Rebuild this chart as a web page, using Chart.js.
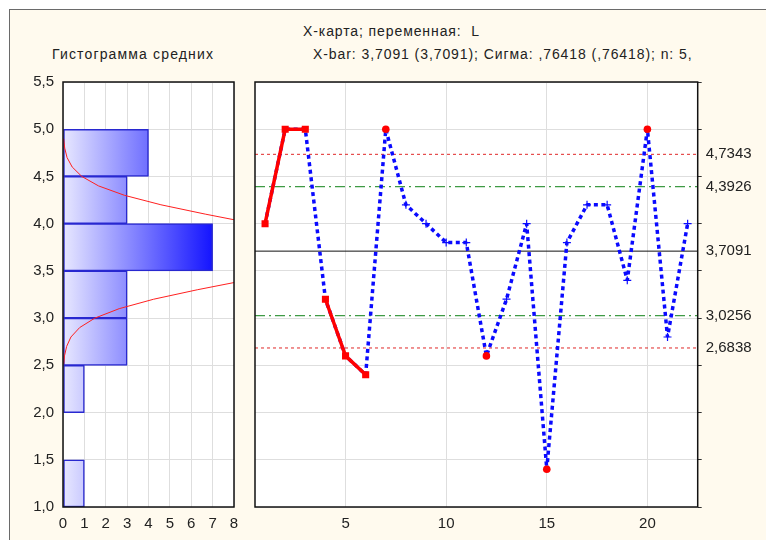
<!DOCTYPE html>
<html>
<head>
<meta charset="utf-8">
<script src="https://cdn.jsdelivr.net/npm/chart.js@4.4.1/dist/chart.umd.min.js"></script>
<style>
  html, body { margin: 0; padding: 0; background: #fff; }
  #page  { position: relative; width: 766px; height: 540px; overflow: hidden; }
  #frame { position: absolute; left: 9px; top: 9px; width: 770px; height: 545px;
           background: #fffaee; border-left: 1.5px solid #6a6a6a; border-top: 1.5px solid #6a6a6a; }
  .ttl   { position: absolute; font: 14px "Liberation Sans", Arial, sans-serif; line-height: 14px;
           color: #222; white-space: pre; letter-spacing: .9px; }
  canvas { position: absolute; top: 0; }
</style>
</head>
<body>
<div id="page">
  <div id="frame"></div>
  <div class="ttl" style="left:303px;top:24px">X-карта; переменная:  L</div>
  <div class="ttl" style="left:52px;top:47px;letter-spacing:1.15px">Гистограмма средних</div>
  <div class="ttl" style="left:313px;top:47px;letter-spacing:.92px">X-bar: 3,7091 (3,7091); Сигма: ,76418 (,76418); n: 5,</div>
  <canvas id="hist" width="250" height="540" style="left:0"></canvas>
  <canvas id="xbar" width="521" height="540" style="left:245px"></canvas>
</div>

<script>
// ---- данные ----
const samples = [1, 2, 3, 4, 5, 6, 7, 8, 9, 10, 11, 12, 13, 14, 15, 16, 17, 18, 19, 20, 21, 22];
const means   = [4.0, 5.0, 5.0, 3.2, 2.6, 2.4, 5.0, 4.2, 4.0, 3.8, 3.8, 2.6, 3.2, 4.0, 1.4, 3.8, 4.2, 4.2, 3.4, 5.0, 2.8, 4.0];
const runs       = [[1, 2, 3], [4, 5, 6]];   // серии подряд
const outSamples = [7, 12, 15, 20];          // вне контрольных границ

const CL  = 3.7091;
const UCL = 4.7343, LCL = 2.6838;
const UWL = 4.3926, LWL = 3.0256;
const limitValues = [2.6838, 3.0256, 3.7091, 4.3926, 4.7343];
const limitLabels = ['2,6838', '3,0256', '3,7091', '4,3926', '4,7343'];

// гистограмма средних
const binCenters = [1.25, 1.75, 2.25, 2.75, 3.25, 3.75, 4.25, 4.75];
const binCounts  = [1, 0, 1, 3, 3, 7, 3, 4];

// нормальная кривая: [частота, значение]
const curveUpper = [[0.03, 4.90], [0.08, 4.80], [0.19, 4.70], [0.43, 4.60], [0.88, 4.50],
                    [1.66, 4.40], [2.88, 4.30], [4.58, 4.20], [6.68, 4.10], [8.94, 4.00]];
const curveLower = [[0.03, 2.51], [0.07, 2.60], [0.17, 2.70], [0.37, 2.80], [0.78, 2.90],
                    [1.49, 3.00], [2.63, 3.10], [4.24, 3.20], [6.28, 3.30], [8.53, 3.40]];

const yTicks      = [1.0, 1.5, 2.0, 2.5, 3.0, 3.5, 4.0, 4.5, 5.0, 5.5];
const yTickLabels = ['1,0', '1,5', '2,0', '2,5', '3,0', '3,5', '4,0', '4,5', '5,0', '5,5'];
const histXTicks  = [0, 1, 2, 3, 4, 5, 6, 7, 8];
const sampleTicks = [5, 10, 15, 20];
const X_MIN = 0.5, X_MAX = 22.5;

Chart.defaults.font.family = '"Liberation Sans", Arial, sans-serif';
Chart.defaults.color = '#222';

const GRID = '#dedede';
const setTicks = list => s => { s.ticks = list.map(v => ({ value: v })); };

// белое поле + чёрная рамка
const plotFrame = {
  id: 'plotFrame',
  beforeDraw(chart) {
    const { ctx, chartArea: a } = chart;
    ctx.save();
    ctx.fillStyle = '#fff';
    ctx.fillRect(a.left, a.top, a.width, a.height);
    ctx.restore();
  },
  afterDraw(chart) {
    const { ctx, chartArea: a } = chart;
    ctx.save();
    ctx.strokeStyle = '#111';
    ctx.lineWidth = 1.5;
    ctx.strokeRect(a.left, a.top, a.width, a.height);
    ctx.restore();
  }
};

function barGradient(c) {
  const chart = c.chart;
  if (!chart.chartArea) return '#8888ff';
  const xs = chart.scales.x;
  const g = chart.ctx.createLinearGradient(xs.getPixelForValue(0), 0, xs.getPixelForValue(7), 0);
  g.addColorStop(0, '#e8e8ff');
  g.addColorStop(1, '#1414ff');
  return g;
}

// ════ Гистограмма ════
new Chart(document.getElementById('hist'), {
  data: {
    datasets: [
      {
        type: 'bar', indexAxis: 'y', xAxisID: 'x', yAxisID: 'y',
        data: binCenters.map((c, i) => ({ x: binCounts[i], y: c })),
        backgroundColor: barGradient, borderColor: '#2828d0', borderWidth: 1.5,
        borderSkipped: false, barPercentage: 1, categoryPercentage: 1, order: 2
      },
      {
        type: 'line', xAxisID: 'x', yAxisID: 'y',
        data: curveUpper.map(([x, y]) => ({ x, y })),
        borderColor: '#ff2020', borderWidth: 1, pointRadius: 0, order: 1
      },
      {
        type: 'line', xAxisID: 'x', yAxisID: 'y',
        data: curveLower.map(([x, y]) => ({ x, y })),
        borderColor: '#ff2020', borderWidth: 1, pointRadius: 0, order: 1
      }
    ]
  },
  options: {
    responsive: false, animation: false,
    layout: { padding: { top: 82, right: 16, left: 0, bottom: 0 } },
    plugins: { legend: { display: false }, tooltip: { enabled: false } },
    scales: {
      x: {
        type: 'linear', min: 0, max: 8, offset: false,
        afterBuildTicks: setTicks(histXTicks), afterFit: s => { s.height = 33; },
        grid: { color: GRID, drawTicks: false, offset: false }, border: { display: false },
        ticks: { padding: 8, font: { size: 15 } }
      },
      y: {
        type: 'linear', min: 1, max: 5.5, offset: false,
        afterBuildTicks: setTicks(yTicks), afterFit: s => { s.width = 63; },
        grid: { color: GRID, drawTicks: false, offset: false }, border: { display: false },
        ticks: { padding: 9, font: { size: 15 }, callback: v => yTickLabels[yTicks.indexOf(v)] }
      }
    }
  },
  plugins: [plotFrame]
});

// ════ X-карта ════
const special = new Set([...runs.flat(), ...outSamples]);
const pt = s => ({ x: s, y: means[s - 1] });
const runData = [];
runs.forEach((r, i) => {
  if (i) runData.push({ x: r[0] - 0.5, y: null });
  r.forEach(s => runData.push(pt(s)));
});
const hLine = v => [{ x: X_MIN, y: v }, { x: X_MAX, y: v }];
const flat = { pointRadius: 0, fill: false };

new Chart(document.getElementById('xbar'), {
  type: 'line',
  data: {
    datasets: [
      { data: runData, borderColor: '#ff0000', backgroundColor: '#ff0000', borderWidth: 3.5,
        borderJoinStyle: 'round', pointStyle: 'rect', pointRadius: 5, pointBorderWidth: 0, order: 0 },
      { data: outSamples.map(pt), showLine: false, pointStyle: 'circle', pointRadius: 3.8,
        backgroundColor: '#ff0000', borderColor: '#ff0000', pointBorderWidth: 0, order: 1 },
      { data: samples.map(pt), borderColor: '#0a0aff', borderWidth: 3.5, borderDash: [4, 3.5],
        borderJoinStyle: 'bevel', pointStyle: 'cross', pointBorderColor: '#0a0aff', pointBorderWidth: 1.2,
        pointRadius: c => special.has(samples[c.dataIndex]) ? 0 : 4, order: 2 },
      { data: hLine(CL),  borderColor: '#111',    borderWidth: 1, ...flat, order: 3 },
      { data: hLine(UCL), borderColor: '#e02828', borderWidth: 1, borderDash: [3, 3], ...flat, order: 4 },
      { data: hLine(LCL), borderColor: '#e02828', borderWidth: 1, borderDash: [3, 3], ...flat, order: 4 },
      { data: hLine(UWL), borderColor: '#3f9a45', borderWidth: 1.3, borderDash: [10, 4, 2, 4], ...flat, order: 5 },
      { data: hLine(LWL), borderColor: '#3f9a45', borderWidth: 1.3, borderDash: [10, 4, 2, 4], ...flat, order: 5 }
    ]
  },
  options: {
    responsive: false, animation: false,
    layout: { padding: { top: 82, right: 0, left: 0, bottom: 0 } },
    plugins: { legend: { display: false }, tooltip: { enabled: false } },
    scales: {
      x: {
        type: 'linear', min: X_MIN, max: X_MAX,
        afterBuildTicks: setTicks(sampleTicks), afterFit: s => { s.height = 33; },
        grid: { color: GRID, drawTicks: false }, border: { display: false },
        ticks: { padding: 8, font: { size: 15 } }
      },
      y: {
        type: 'linear', position: 'left', min: 1, max: 5.5,
        afterBuildTicks: setTicks(yTicks), afterFit: s => { s.width = 10; },
        grid: { color: GRID, drawTicks: false }, border: { display: false },
        ticks: { display: false }
      },
      yR: {
        type: 'linear', position: 'right', min: 1, max: 5.5, weight: 0,
        afterBuildTicks: setTicks(yTicks), afterFit: s => { s.width = 4; },
        grid: { drawOnChartArea: false, drawTicks: true, tickLength: 4, color: '#333' },
        border: { display: false }, ticks: { display: false }
      },
      yC: {
        type: 'linear', position: 'right', min: 1, max: 5.5, weight: 1,
        afterBuildTicks: setTicks(limitValues), afterFit: s => { s.width = 64.3; },
        grid: { display: false, drawTicks: false }, border: { display: false },
        ticks: { padding: 4, font: { size: 15 }, autoSkip: false,
                 callback: v => limitLabels[limitValues.indexOf(v)] }
      }
    }
  },
  plugins: [plotFrame]
});
</script>
</body>
</html>
